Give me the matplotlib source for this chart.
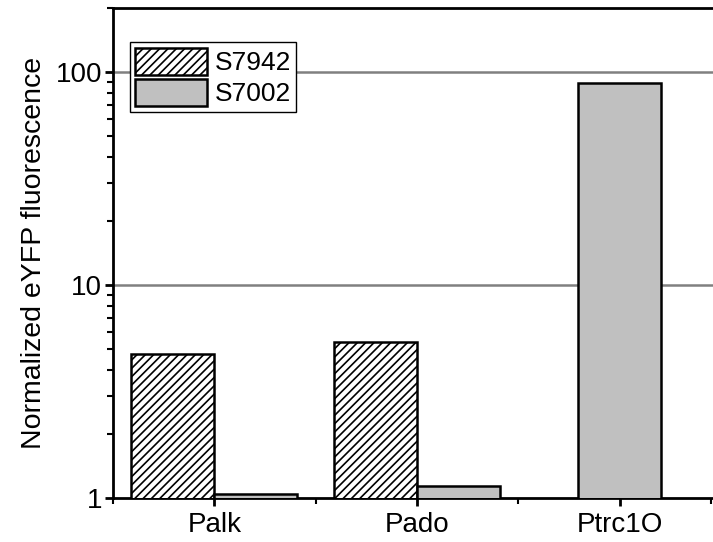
import matplotlib
matplotlib.use("Agg")
import matplotlib.pyplot as plt
import numpy as np
from matplotlib.patches import Patch
from matplotlib.ticker import FixedLocator, LogLocator, NullFormatter

plt.rcParams["font.family"] = ["Liberation Sans", "DejaVu Sans"]
plt.rcParams["hatch.linewidth"] = 1.2

categories = ["Palk", "Pado", "Ptrc1O"]
s7942 = [4.75, 5.4, None]
s7002 = [1.045, 1.14, 89.0]

fig = plt.figure(figsize=(7.13, 5.42), dpi=100)
ax = fig.add_axes([0.1585, 0.0812, 0.853, 0.904])

x = np.arange(len(categories))
w = 0.41
for i in x:
    if s7942[i] is not None:
        # hatched bar left of the centre, grey bar right of it
        ax.bar(i, s7942[i], -w, align="edge", color="white",
               edgecolor="black", hatch="////", lw=1.8, zorder=3)
        ax.bar(i, s7002[i], w, align="edge", color="#c0c0c0",
               edgecolor="black", lw=1.8, zorder=3)
    else:
        ax.bar(i, s7002[i], w, color="#c0c0c0",
               edgecolor="black", lw=1.8, zorder=3)

ax.set_yscale("log")
ax.set_ylim(1, 200)
ax.set_xlim(-0.5, 2.5)

ax.yaxis.set_major_locator(FixedLocator([1, 10, 100]))
ax.set_yticklabels(["1", "10", "100"])
ax.yaxis.set_minor_locator(LogLocator(base=10, subs=np.arange(2, 10)))
ax.yaxis.set_minor_formatter(NullFormatter())
ax.set_xticks(x)
ax.set_xticklabels(categories)
ax.xaxis.set_minor_locator(FixedLocator([-0.5, 0.5, 1.5, 2.45]))

for yv in [10, 100]:
    ax.axhline(yv, color="#808080", lw=1.8, zorder=1)

for side in ["left", "bottom", "top"]:
    ax.spines[side].set_linewidth(2.0)
ax.spines["right"].set_visible(False)
ax.tick_params(which="major", direction="out", length=6, width=2,
               labelsize=20, pad=2)
ax.tick_params(which="minor", direction="out", length=4, width=1.5)
ax.tick_params(axis="x", which="major", pad=4)

ax.set_ylabel("Normalized eYFP fluorescence", fontsize=20.5, labelpad=6)

handles = [Patch(facecolor="white", edgecolor="black", hatch="////", lw=1.8),
           Patch(facecolor="#c0c0c0", edgecolor="black", lw=1.8)]
leg = ax.legend(handles, ["S7942", "S7002"], loc="upper left",
                bbox_to_anchor=(0.028, 0.93), fontsize=19, frameon=True,
                fancybox=False, edgecolor="black", framealpha=1,
                handlelength=2.7, handleheight=1.2, handletextpad=0.3,
                labelspacing=0.15, borderpad=0.2, borderaxespad=0)
leg.get_frame().set_linewidth(1.0)
leg.set_zorder(5)

fig.savefig("out.png", dpi=100)
